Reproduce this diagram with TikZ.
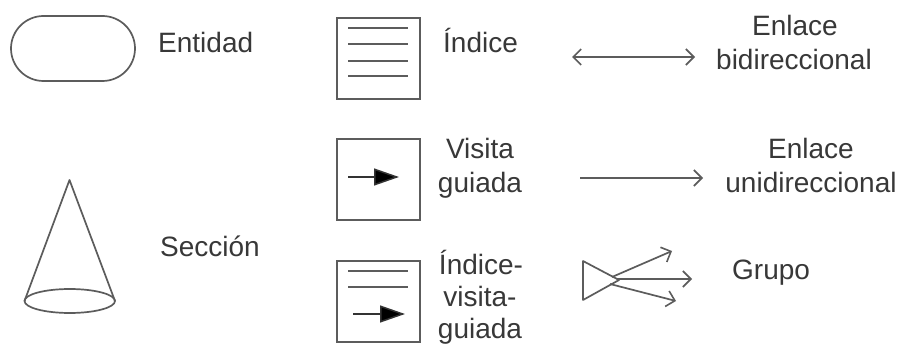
\documentclass[tikz,border=0pt]{standalone}
\usepackage{fontspec}
\setmainfont{Liberation Sans}
\usetikzlibrary{arrows.meta,shapes.misc}
\definecolor{ink}{gray}{0.36}
\definecolor{txt}{gray}{0.22}
\tikzset{
  lbl/.style={inner sep=0pt,text=txt,font=\fontsize{28}{28}\selectfont},
  lblw/.style={lbl,anchor=base west},
  lblc/.style={lbl,anchor=base},
  ln/.style={draw=ink,line width=1.7pt},
  boxnode/.style={ln,rectangle,anchor=north west,minimum width=83pt,minimum height=81pt,inner sep=0pt},
  open/.style={ln,-{Straight Barb[length=8pt,width=16pt,line width=1.6pt]}},
  openboth/.style={ln,{Straight Barb[length=8pt,width=16pt,line width=1.6pt]}-{Straight Barb[length=8pt,width=16pt,line width=1.6pt]}},
  solidhead/.style={draw=black!80,line width=1.5pt,-{Triangle[length=25pt,width=17pt,fill=black]}},
  rule/.style={ln,line width=1.6pt}
}
\begin{document}
\begin{tikzpicture}[x=1pt,y=-1pt]
\useasboundingbox (0,0) rectangle (900,345);
\fill[white] (0,0) rectangle (900,345);
% Entidad
\node[ln,rounded rectangle,minimum width=124pt,minimum height=65pt,inner sep=0pt] (ent) at (73,48.5) {};
\node[lblw] (tEnt) at (158,53) {Entidad};
% Seccion cone
\coordinate (apex) at (69.5,180);
\coordinate (bl) at (24.5,301);
\coordinate (br) at (115,301);
\draw[ln,line join=round] (bl) -- (apex) -- (br);
\draw[ln] (69.75,301) ellipse [x radius=45.25pt,y radius=12pt];
\node[lblw] (tSec) at (160,256) {Sección};
% Indice box
\node[boxnode] (b1) at (336,17) {};
\foreach \y in {28,44,61,76} \draw[rule] (348,\y) -- (408,\y);
\node[lblw] (tInd) at (443,53) {Índice};
% Visita box
\node[boxnode] (b2) at (336,138) {};
\coordinate (a2s) at (348,177);
\coordinate (a2e) at (399,177);
\draw[solidhead] (a2s) -- (a2e);
\node[lblc] (tVis) at (480,158) {Visita};
\node[lblc] (tGui) at (480,192) {guiada};
% Indice-visita box
\node[boxnode] (b3) at (336,260) {};
\foreach \y in {271,287} \draw[rule] (348,\y) -- (408,\y);
\coordinate (a3s) at (353,314);
\coordinate (a3e) at (405,314);
\draw[solidhead] (a3s) -- (a3e);
\node[lblc] (tIv1) at (481,274) {Índice-};
\node[lblc] (tIv2) at (480,306) {visita-};
\node[lblc] (tIv3) at (480,338.5) {guiada};
% bidirectional
\coordinate (bs) at (572,57);
\coordinate (be) at (695,57);
\draw[openboth] (bs) -- (be);
\node[lblc] (tE1) at (795,36) {Enlace};
\node[lblc] (tB) at (794,70) {bidireccional};
% unidirectional
\coordinate (us) at (580,178);
\coordinate (ue) at (703,178);
\draw[open] (us) -- (ue);
\node[lblc] (tE2) at (811,158) {Enlace};
\node[lblc] (tU) at (811,192) {unidireccional};
% Grupo
\coordinate (t1) at (583,261);
\coordinate (t2) at (583,300);
\coordinate (t3) at (619,280);
\coordinate (g1s) at (612,277);
\coordinate (g2s) at (617,279);
\coordinate (g3s) at (610,284);
\coordinate (g1) at (672,251);
\coordinate (g2) at (692,279);
\coordinate (g3) at (676,301);
\draw[ln,line join=round] (t3) -- (t1) -- (t2) -- cycle;
\draw[open] (g1s) -- (g1);
\draw[open] (g2s) -- (g2);
\draw[open] (g3s) -- (g3);
\node[lblw] (tG) at (732,279) {Grupo};
\end{tikzpicture}
\end{document}
